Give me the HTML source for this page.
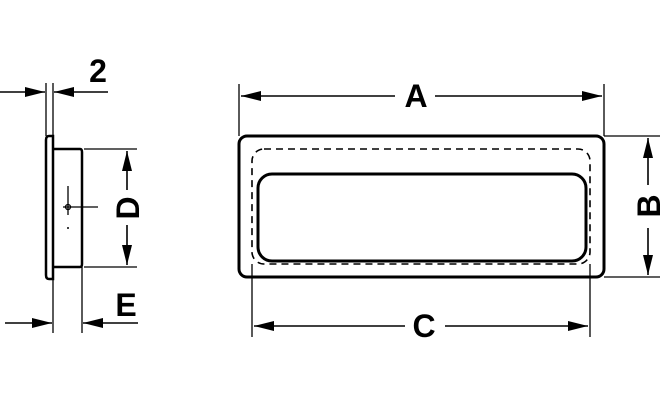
<!DOCTYPE html>
<html><head><style>body{margin:0;background:#fff}svg{display:block}text{font-family:"Liberation Sans",sans-serif;font-weight:bold;font-size:32px;fill:#000}</style></head><body>
<svg width="660" height="400" viewBox="0 0 660 400" xmlns="http://www.w3.org/2000/svg">
<defs>
<marker id="ar" viewBox="0 0 20 10" refX="20" refY="5" markerWidth="20" markerHeight="10" markerUnits="userSpaceOnUse" orient="auto"><path d="M0,0 L20,5 L0,10 Z" fill="#000"/></marker>
</defs>
<g stroke="#000" fill="none">
<!-- main view -->
<rect x="239" y="136" width="365" height="141" rx="8" stroke-width="3"/>
<rect x="252" y="149" width="338" height="115" rx="12" stroke-width="1.6" stroke-dasharray="7,5"/>
<rect x="258" y="174" width="328" height="87" rx="14" stroke-width="3"/>
<!-- A -->
<line x1="239" y1="84" x2="239" y2="136" stroke-width="1.3"/>
<line x1="604" y1="84" x2="604" y2="136" stroke-width="1.3"/>
<line x1="395" y1="96" x2="241" y2="96" stroke-width="1.6" marker-end="url(#ar)"/>
<line x1="435" y1="96" x2="602" y2="96" stroke-width="1.6" marker-end="url(#ar)"/>
<!-- B -->
<line x1="604" y1="136" x2="660" y2="136" stroke-width="1.3"/>
<line x1="604" y1="277" x2="660" y2="277" stroke-width="1.3"/>
<line x1="648" y1="185" x2="648" y2="138" stroke-width="1.6" marker-end="url(#ar)"/>
<line x1="648" y1="228" x2="648" y2="275" stroke-width="1.6" marker-end="url(#ar)"/>
<!-- C -->
<line x1="252" y1="264" x2="252" y2="337" stroke-width="1.3"/>
<line x1="590" y1="264" x2="590" y2="337" stroke-width="1.3"/>
<line x1="405" y1="326" x2="254" y2="326" stroke-width="1.6" marker-end="url(#ar)"/>
<line x1="445" y1="326" x2="588" y2="326" stroke-width="1.6" marker-end="url(#ar)"/>
<!-- side view -->
<path d="M53,136 L49,136 Q46,136 46,140 L46,275 Q46,279 49,279 L53,279 Z" stroke-width="2.5"/>
<path d="M53,149 L80,149 Q82,149 82,152 L82,264 Q82,267 80,267 L53,267" stroke-width="2.5"/>
<circle cx="68" cy="207" r="2.5" stroke-width="1.3"/>
<line x1="68" y1="186" x2="68" y2="215" stroke-width="1.3"/>
<line x1="63" y1="207" x2="98" y2="207" stroke-width="1.3"/>
<line x1="68" y1="227" x2="68" y2="229" stroke-width="1.5"/>
<!-- 2 -->
<line x1="46" y1="83" x2="46" y2="136" stroke-width="1.3"/>
<line x1="53" y1="83" x2="53" y2="136" stroke-width="1.3"/>
<line x1="0" y1="92" x2="45" y2="92" stroke-width="1.6" marker-end="url(#ar)"/>
<line x1="108" y1="92" x2="54" y2="92" stroke-width="1.6" marker-end="url(#ar)"/>
<!-- D -->
<line x1="84" y1="149" x2="137" y2="149" stroke-width="1.3"/>
<line x1="84" y1="267" x2="137" y2="267" stroke-width="1.3"/>
<line x1="127" y1="190" x2="127" y2="151" stroke-width="1.6" marker-end="url(#ar)"/>
<line x1="127" y1="225" x2="127" y2="265" stroke-width="1.6" marker-end="url(#ar)"/>
<!-- E -->
<line x1="53" y1="279" x2="53" y2="333" stroke-width="1.3"/>
<line x1="82" y1="267" x2="82" y2="333" stroke-width="1.3"/>
<line x1="5" y1="323" x2="52" y2="323" stroke-width="1.6" marker-end="url(#ar)"/>
<line x1="138" y1="323" x2="83" y2="323" stroke-width="1.6" marker-end="url(#ar)"/>
</g>
<text x="416" y="107" text-anchor="middle">A</text>
<text x="424" y="337" text-anchor="middle">C</text>
<text x="98" y="82" text-anchor="middle">2</text>
<text x="126" y="316" text-anchor="middle">E</text>
<text transform="translate(660,206) rotate(-90)" text-anchor="middle">B</text>
<text transform="translate(139,208) rotate(-90)" text-anchor="middle">D</text>
</svg>
</body></html>
